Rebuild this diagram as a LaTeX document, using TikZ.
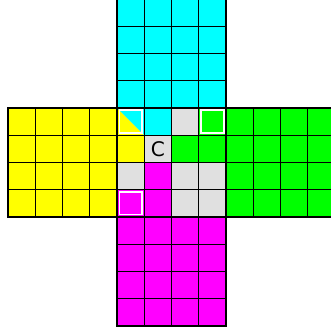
\documentclass[tikz,border=0pt]{standalone}
\usepackage{fontspec}
\setsansfont{DejaVu Sans}
\definecolor{facecyan}{RGB}{0,255,255}
\definecolor{faceyellow}{RGB}{255,255,0}
\definecolor{facegreen}{RGB}{0,255,0}
\definecolor{facemagenta}{RGB}{255,0,255}
\definecolor{facegray}{RGB}{224,224,224}

\begin{document}
\begin{tikzpicture}[x=1cm,y=1cm,
    gridline/.style={black,line width=1.3pt},
    faceborder/.style={black,line width=2.6pt},
    picked/.style={white,line width=1.4pt}]
  \useasboundingbox (-4.294,-4.257) rectangle (7.817,7.963);
  % the four outer faces
  \fill[facecyan] (0,4) rectangle (4,8);
  \fill[faceyellow] (-4,0) rectangle (0,4);
  \fill[facegreen] (4,0) rectangle (8,4);
  \fill[facemagenta] (0,-4) rectangle (4,0);
  % centre face
  \fill[facegray] (0,0) rectangle (4,4);
  \fill[faceyellow] (0,3) -- (0,4) -- (1,3) -- cycle;
  \fill[facecyan] (0,4) -- (1,4) -- (1,3) -- cycle;
  \fill[facecyan] (1,3) rectangle (2,4);
  \fill[facegreen] (3,3) rectangle (4,4);
  \fill[faceyellow] (0,2) rectangle (1,3);
  \fill[facegreen] (2,2) rectangle (4,3);
  \fill[facemagenta] (1,0) rectangle (2,2);
  \fill[facemagenta] (0,0) rectangle (1,1);
  % cell lines
  \draw[gridline] (-4,0) grid (8,4);
  \draw[gridline] (0,-4) grid (4,8);
  % face borders
  \draw[faceborder] (0,4) rectangle (4,8);
  \draw[faceborder] (-4,0) rectangle (0,4);
  \draw[faceborder] (4,0) rectangle (8,4);
  \draw[faceborder] (0,-4) rectangle (4,0);
  \draw[faceborder] (0,0) rectangle (4,4);
  % marked cells
  \draw[picked] (0.08,3.08) rectangle (0.92,3.92);
  \draw[picked] (3.08,3.08) rectangle (3.92,3.92);
  \draw[picked] (0.08,0.08) rectangle (0.92,0.92);
  \node[font=\sffamily\fontsize{21}{21}\selectfont] (centre) at (1.5,2.48) {C};
\end{tikzpicture}
\end{document}
